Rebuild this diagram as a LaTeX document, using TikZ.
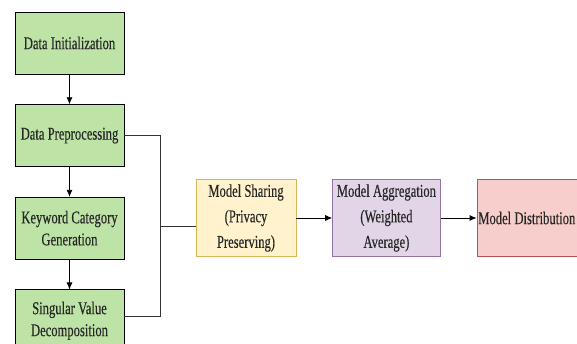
\documentclass[tikz,border=0pt]{standalone}
\usepackage{fontspec}
\setmainfont{Liberation Serif}[FakeStretch=0.7,FakeBold=0.3]
\usetikzlibrary{arrows.meta,positioning}
\usepackage{xcolor}
\definecolor{stepgreen}{HTML}{BEE3A6}
\definecolor{sharefill}{HTML}{FFF2CC}
\definecolor{shareline}{HTML}{D6B656}
\definecolor{aggrfill}{HTML}{E1D5E7}
\definecolor{aggrline}{HTML}{9673A6}
\definecolor{distfill}{HTML}{F8CECC}
\definecolor{distline}{HTML}{B85450}

\begin{document}
\begin{tikzpicture}[x=1pt,y=1pt,node distance=30pt,
    execute at begin node={\spaceskip=3.2pt\relax}]
    \tikzstyle{block} = [rectangle, draw, semithick, fill=stepgreen, text width=106pt,
               minimum width=109pt, minimum height=62pt, inner sep=1pt,
               align=center, text=black!85, font=\fontsize{18}{22}\selectfont]
    \tikzstyle{model} = [rectangle, draw, text width=106pt,
               minimum height=77pt, inner sep=1pt, text=black!85,
               align=center, font=\fontsize{18}{25.5}\selectfont]
    \tikzstyle{line} = [draw, thick, -{Latex[length=7pt,width=6pt]}]
    \tikzstyle{bus} = [draw, thick, black!80]

    \useasboundingbox (0,0) rectangle (577,344);

    % Pipeline on the left
    \node [block] (init) at (69.5,301) {Data Initialization};
    \node [block, below=of init] (prep) {Data Preprocessing};
    \node [block, below=of prep] (kwgen) {Keyword Category\\Generation};
    \node [block, below=of kwgen] (svd) {Singular Value\\Decomposition};

    % Federated steps
    \node [model, fill=sharefill, draw=shareline, minimum width=100pt,
      text width=98pt] (share) at (246,126) {Model Sharing\\(Privacy\\Preserving)};
    \node [model, fill=aggrfill, draw=aggrline, minimum width=108pt,
      right=36pt of share] (aggr) {Model Aggregation\\(Weighted\\Average)};
    \node [model, fill=distfill, draw=distline, minimum width=100pt,
      text width=98pt, right=36pt of aggr] (dist) {Model Distribution};

    \draw [line] (init) -- (prep);
    \draw [line] (prep) -- (kwgen);
    \draw [line] (kwgen) -- (svd);

    % Bus into model sharing
    \coordinate (bus) at ([xshift=36pt]prep.east);
    \coordinate (sharein) at ([yshift=-8pt]share.west);
    \draw [bus] (prep.east) -- (bus) |- ([yshift=4pt]svd.east);
    \draw [bus] (bus |- sharein) -- (sharein);

    \draw [line] (share) -- (aggr);
    \draw [line] (aggr) -- (dist);
\end{tikzpicture}
\end{document}
